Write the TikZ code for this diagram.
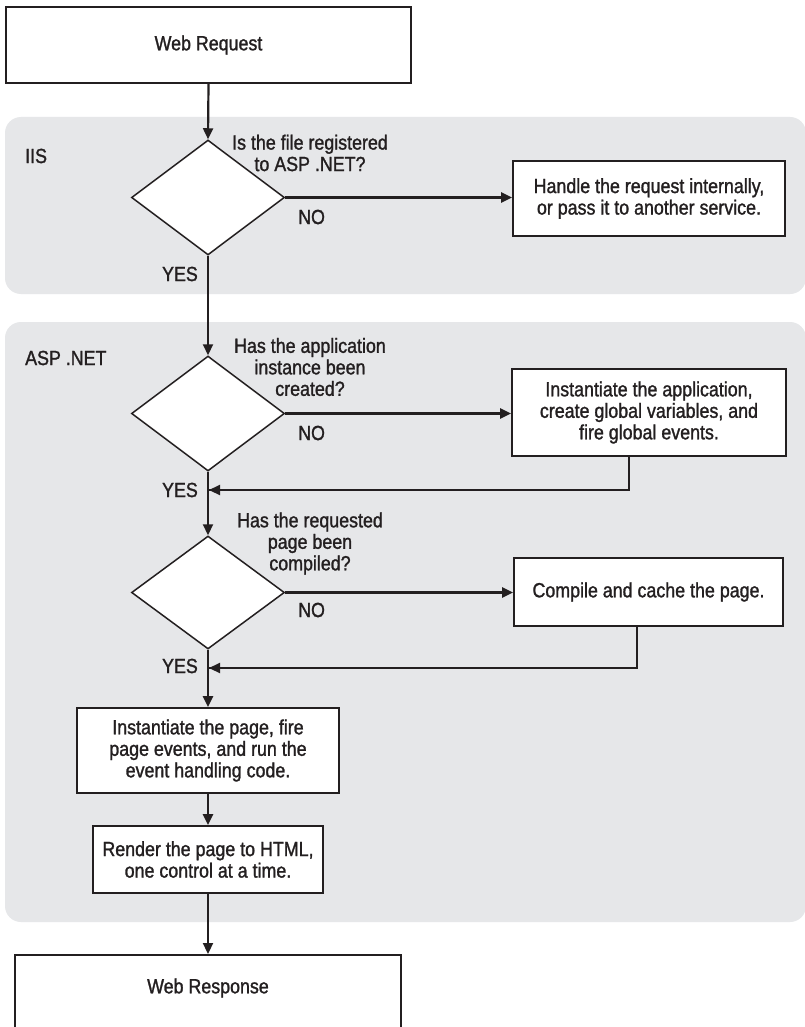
\documentclass[tikz,border=0pt]{standalone}
\usepackage{fontspec}
\setmainfont{Liberation Sans}[FakeStretch=0.87,FakeBold=1.3]
\usetikzlibrary{shapes.geometric,arrows.meta,calc}
\definecolor{panelgray}{HTML}{E6E7E9}
\definecolor{ink}{HTML}{231F20}
\tikzset{
  txt/.style={font=\fontsize{20.5}{21.5}\selectfont, text=ink, align=center, inner sep=0pt},
  panel/.style={fill=panelgray, draw=none, rounded corners=16pt},
  stepbox/.style={draw=ink, fill=white, line width=1.7pt, txt, inner sep=0pt},
  decision/.style={diamond, draw=ink, fill=white, line width=1.5pt, inner sep=0pt},
  flow/.style={draw=ink, line width=2.2pt, -{Triangle[length=11pt,width=10pt]}},
  line/.style={draw=ink, line width=2.2pt}
}
\begin{document}
\begin{tikzpicture}[x=1pt,y=-1pt]
\clip (0,0) rectangle (805,1027);
\fill[white] (0,0) rectangle (805,1027);
% panels
\path[panel] (5,117) rectangle (806,294);
\path[panel] (5,322) rectangle (806,922);
\node[txt, anchor=west] (iis) at (25,156) {IIS};
\node[txt, anchor=west] (asp) at (25,358) {ASP .NET};
% nodes
\node[stepbox, minimum width=405pt, minimum height=76pt] (req) at (208.5,45) {Web Request};
\node[decision, minimum width=153pt, minimum height=115pt] (d1) at (208,197.5) {};
\node[txt] (q1) at (310,153) {Is the file registered\\to ASP .NET?};
\node[stepbox, minimum width=272pt, minimum height=75pt] (handle) at (649,198.5) {Handle the request internally,\\or pass it to another service.};
\node[txt, anchor=west] (no1) at (298,217) {NO};
\node[txt, anchor=east] (yes1) at (198,274) {YES};

\node[decision, minimum width=153pt, minimum height=115pt] (d2) at (208,413.5) {};
\node[txt] (q2) at (310,367) {Has the application\\instance been\\created?};
\node[stepbox, minimum width=274pt, minimum height=87pt] (app) at (649,412.5) {Instantiate the application,\\create global variables, and\\fire global events.};
\node[txt, anchor=west] (no2) at (298,433) {NO};
\node[txt, anchor=east] (yes2) at (198,490) {YES};
\coordinate (j1) at (208,490);

\node[decision, minimum width=153pt, minimum height=113pt] (d3) at (208,592.5) {};
\node[txt] (q3) at (310,543.5) {Has the requested\\page been\\compiled?};
\node[stepbox, minimum width=269pt, minimum height=68pt] (comp) at (648.5,592) {Compile and cache the page.};
\node[txt, anchor=west] (no3) at (298,610) {NO};
\node[txt, anchor=east] (yes3) at (198,666) {YES};
\coordinate (j2) at (208,668);

\node[stepbox, minimum width=262pt, minimum height=85pt] (inst) at (208,750.5) {Instantiate the page, fire\\page events, and run the\\event handling code.};
\node[stepbox, minimum width=230pt, minimum height=67pt] (rend) at (208,859.5) {Render the page to HTML,\\one control at a time.};
\node[stepbox, minimum width=386pt, minimum height=90pt, anchor=north] (resp) at (208,954) {};
\node[txt] (resptxt) at (208,988) {Web Response};

% connectors
\draw[flow] (req.south) -- (d1.north);
\draw[flow] (d1.east) -- (d1.east -| handle.west);
\draw[flow] (d1.south) -- (d2.north);
\draw[flow] (d2.east) -- (d2.east -| app.west);
\draw[line] (app.south -| 629,0) -- (629,490) -- (j1);
\draw[flow] (629,490) -- ([xshift=1pt]j1);
\draw[flow] (d2.south) -- (d3.north);
\draw[flow] (d3.east) -- (d3.east -| comp.west);
\draw[line] (comp.south -| 637,0) -- (637,668) -- (j2);
\draw[flow] (637,668) -- ([xshift=1pt]j2);
\draw[flow] (d3.south) -- (inst.north);
\draw[flow] (inst.south) -- (rend.north);
\draw[flow] (rend.south) -- (resp.north);
\end{tikzpicture}
\end{document}
